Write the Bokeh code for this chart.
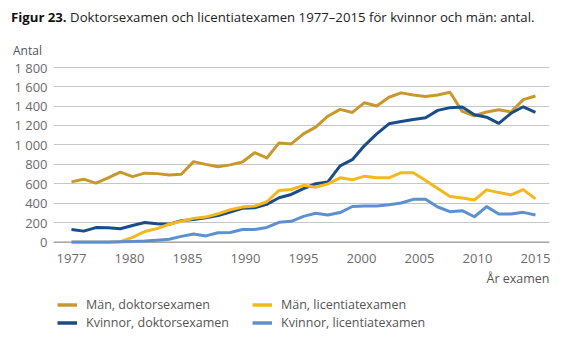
from bokeh.plotting import figure
from bokeh.layouts import column
from bokeh.models import (Range1d, FixedTicker, CustomJSTickFormatter, Title,
                          Legend, LegendItem, Span, Div)
from bokeh.embed import file_html
from bokeh.resources import INLINE

years = list(range(1977, 2016))
man_doktor = [620, 648, 608, 662, 720, 674, 710, 705, 692, 698, 828, 800, 776,
              795, 825, 920, 866, 1021, 1010, 1114, 1183, 1295, 1365, 1334, 1434,
              1400, 1490, 1535, 1514, 1497, 1514, 1541, 1345, 1300, 1338, 1362,
              1338, 1466, 1503]
kvinnor_doktor = [130, 114, 150, 148, 138, 172, 203, 190, 185, 222, 234, 251, 275,
                  310, 348, 354, 389, 457, 491, 550, 601, 620, 785, 848, 993, 1114,
                  1217, 1241, 1262, 1279, 1355, 1383, 1390, 1310, 1285, 1222, 1325,
                  1392, 1335]
man_lic = [0, 0, 0, 0, 5, 50, 110, 140, 185, 215, 245, 258, 292, 334, 361, 371,
           416, 532, 542, 585, 565, 600, 662, 641, 679, 662, 662, 715, 715, 634,
           553, 469, 455, 434, 538, 510, 486, 541, 445]
kvinnor_lic = [2, 2, 2, 2, 5, 8, 12, 20, 30, 60, 85, 65, 98, 100, 130, 130, 152,
               205, 215, 266, 298, 279, 305, 367, 372, 372, 386, 403, 441, 441, 362,
               314, 324, 262, 366, 290, 290, 307, 279]

x_tick_labels = ["1977", "1980", "1985", "1990", "1995", "2000", "2005", "2010", "2015"]
y_ticks = [0, 200, 400, 600, 800, 1000, 1200, 1400, 1600, 1800]
y_tick_labels = ["0", "200", "400", "600", "800", "1 000", "1 200", "1 400", "1 600", "1 800"]

series_names = ["Män, doktorsexamen", "Kvinnor, doktorsexamen",
                "Män, licentiatexamen", "Kvinnor, licentiatexamen"]
colors = ["#C8982C", "#1B4C8A", "#F6B71C", "#5E90D0"]

title_bold = "Figur 23."
title_text = "Doktorsexamen och licentiatexamen 1977–2015 för kvinnor och män: antal."
y_title = "Antal"
x_title = "År examen"

FONT = "Open Sans"

header = Div(
    text=(f'<div style="position:relative;width:587px;height:58px;font-family:\'{FONT}\';">'
          f'<div style="position:absolute;left:11px;top:8px;font-size:13.2px;line-height:18px;'
          f'color:#222;white-space:nowrap;"><b style="color:#111">{title_bold}</b> {title_text}</div>'
          f'<div style="position:absolute;left:13px;top:43px;font-size:12px;line-height:16px;'
          f'color:#555;">{y_title}</div></div>'),
    width=587, height=58, margin=(0, 0, 0, 0))

p = figure(width=587, height=236, output_backend="svg", toolbar_location=None,
           x_range=Range1d(1975.53, 2016.15), y_range=Range1d(-44, 1806),
           min_border_left=53, min_border_right=38, min_border_top=8,
           min_border_bottom=48, margin=(0, 0, 0, 0))
p.outline_line_color = None

first, last = years[0], years[-1]
step = (last - first) / (len(x_tick_labels) - 1)
xt = [first + i * step for i in range(len(x_tick_labels))]
p.xaxis.ticker = FixedTicker(ticks=xt)
p.xaxis.formatter = CustomJSTickFormatter(
    args=dict(labels=x_tick_labels, first=first, step=step),
    code="const i = Math.round((tick - first) / step); return labels[i] || '';")
for ax in (p.xaxis[0], p.yaxis[0]):
    ax.axis_line_color = None
    ax.major_tick_line_color = None
    ax.minor_tick_line_color = None
    ax.major_tick_out = 0
    ax.major_tick_in = 0
    ax.minor_tick_out = 0
    ax.major_label_text_font = FONT
    ax.major_label_text_font_size = "13px"
    ax.major_label_text_color = "#6b6b6b"
p.xaxis.major_label_standoff = 7
p.xgrid.grid_line_color = None

p.yaxis.ticker = FixedTicker(ticks=y_ticks)
p.yaxis.major_label_overrides = {t: l for t, l in zip(y_ticks, y_tick_labels)}
p.yaxis.major_label_standoff = 6
p.ygrid.ticker = FixedTicker(ticks=y_ticks)
p.ygrid.grid_line_color = "#c6c6c6"
p.ygrid.grid_line_width = 1

p.add_layout(Span(location=0, dimension="width", line_color="#9c9c9c",
                  line_width=1.3, level="underlay"))

renderers = []
for vals, col in zip([man_doktor, kvinnor_doktor, man_lic, kvinnor_lic], colors):
    renderers.append(p.line(years, vals, line_color=col, line_width=3,
                            line_join="round"))

p.add_layout(Title(text=x_title, align="right", text_font=FONT,
                   text_font_size="12.5px", text_font_style="normal",
                   text_color="#555555", standoff=4, offset=0), "below")

# legend strip (frame is aligned with the main plot's frame by the column layout)
lp = figure(width=587, height=57, output_backend="svg", toolbar_location=None,
            x_range=Range1d(0, 1), y_range=Range1d(0, 1), min_border=0,
            margin=(0, 0, 0, 0))
lp.axis.visible = False
lp.grid.visible = False
lp.outline_line_color = None
lrs = [lp.line(x=[-5, -4], y=[-5, -4], line_color=c, line_width=3.5) for c in colors]


def make_legend(idx, loc):
    return Legend(
        items=[LegendItem(label=series_names[i], renderers=[lrs[i]]) for i in idx],
        location=loc, orientation="vertical",
        border_line_color=None, background_fill_alpha=0,
        padding=0, margin=0, spacing=1, label_standoff=9,
        glyph_width=20, glyph_height=15, label_height=15,
        label_text_font=FONT, label_text_font_size="12.5px",
        label_text_color="#555555")


lp.add_layout(make_legend([0, 1], (4, 20)), "center")
lp.add_layout(make_legend([2, 3], (199, 20)), "center")

layout = column(header, p, lp, spacing=0, margin=(0, 0, 0, 0))
open("out.html", "w").write(file_html(layout, INLINE))
